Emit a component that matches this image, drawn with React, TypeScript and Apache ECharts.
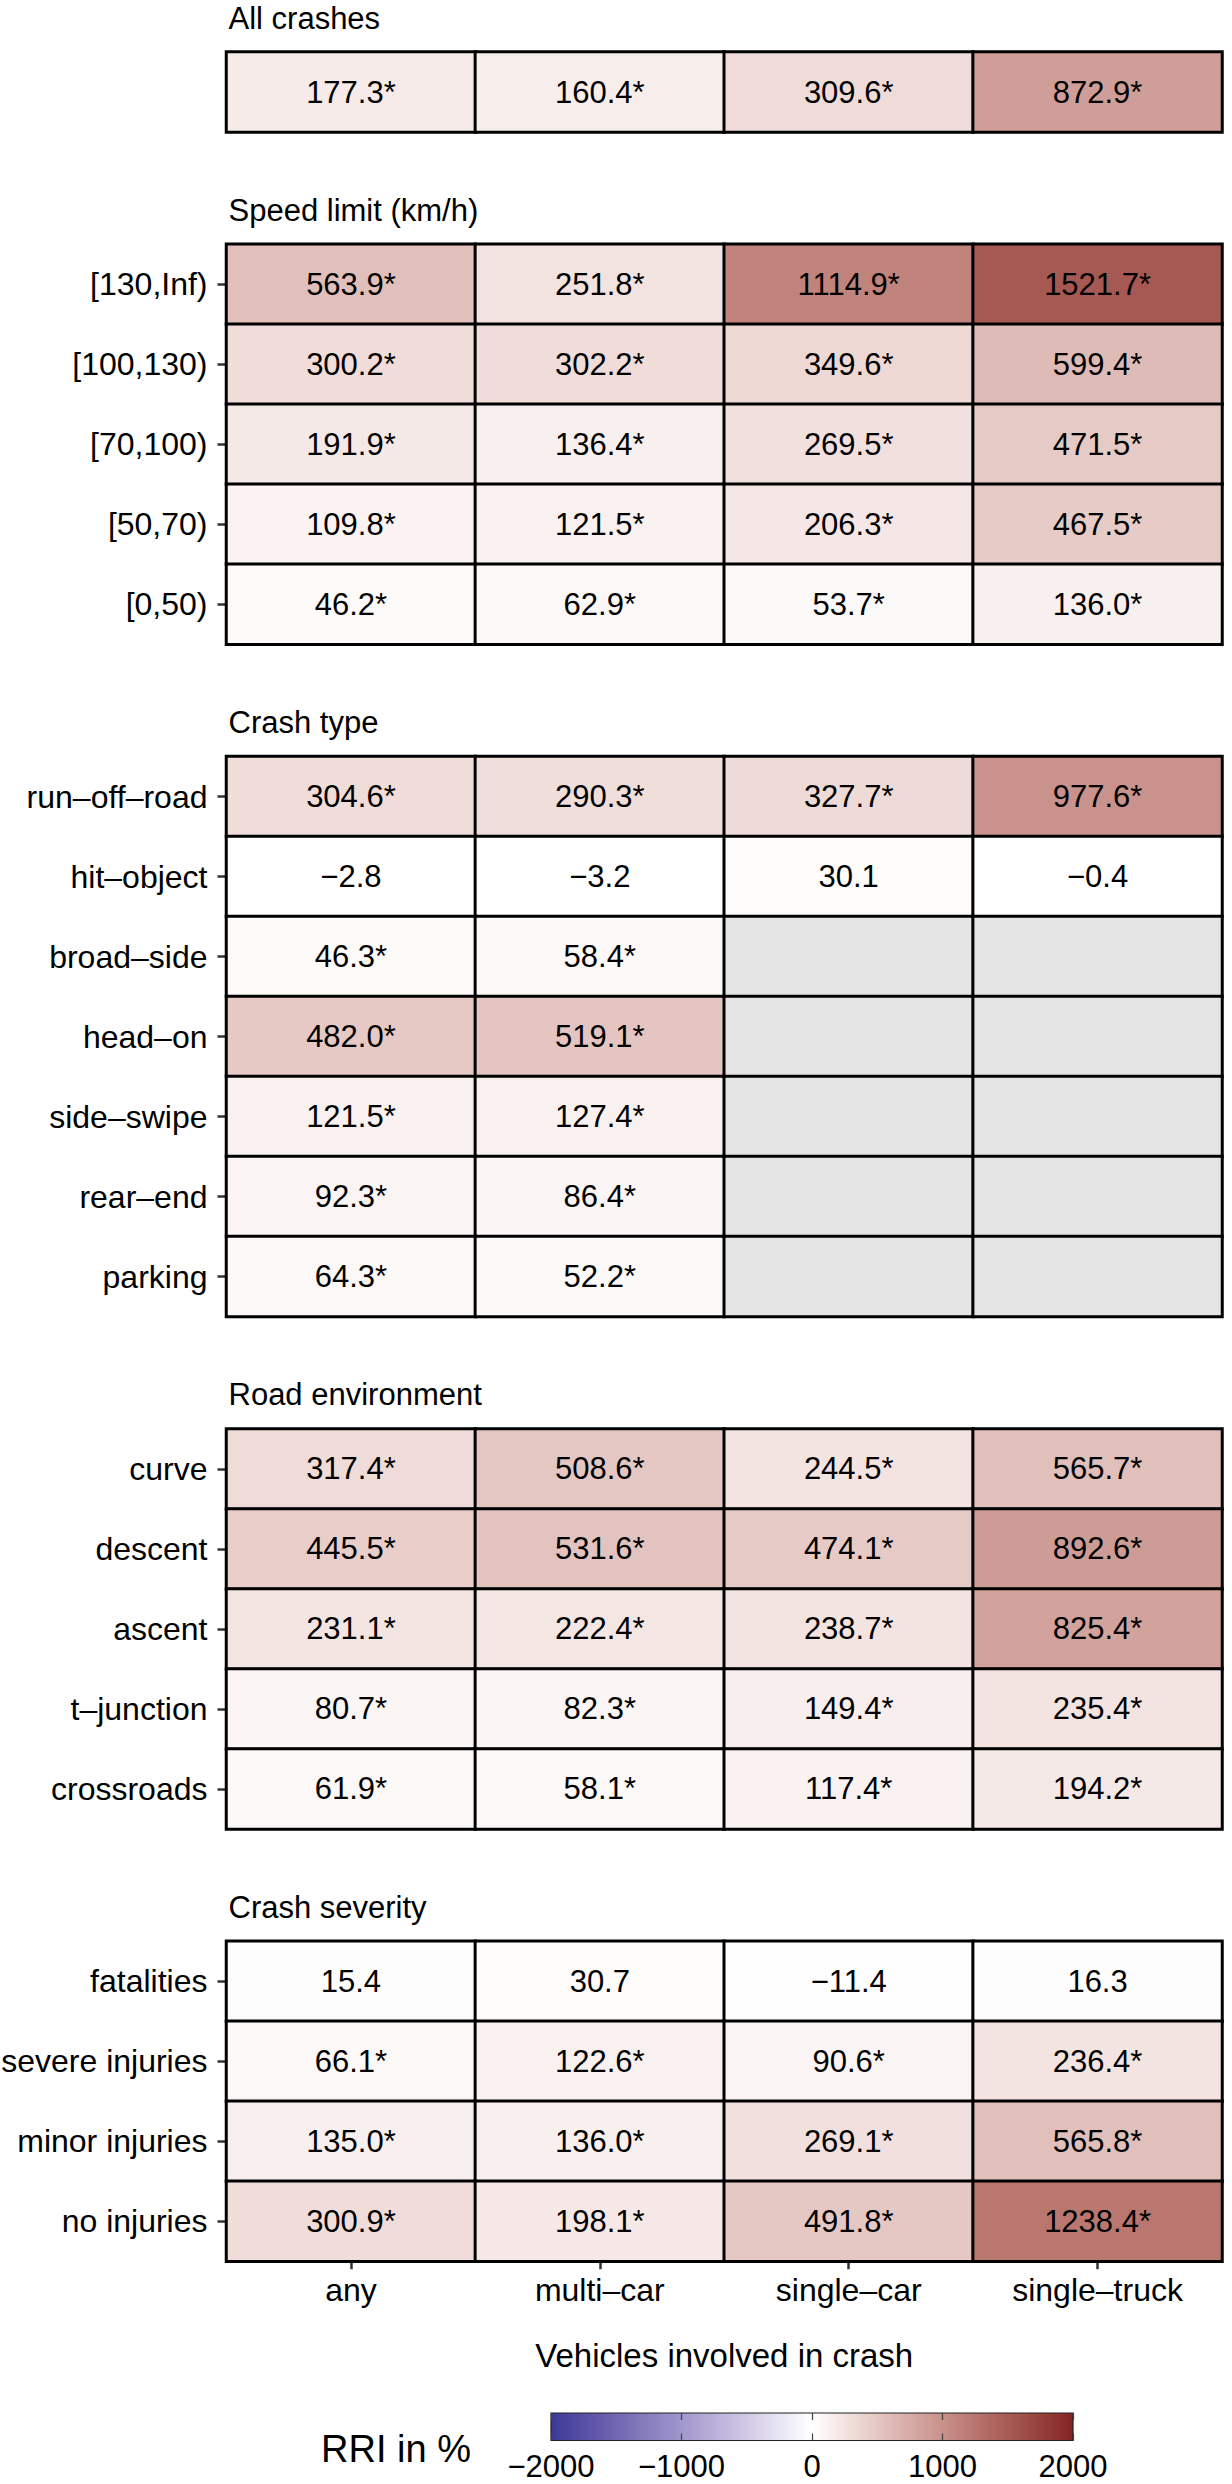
import React, { useEffect, useRef } from "react";
import * as echarts from "echarts";

// ---------------- DATA ----------------
const vehicleTypes = ["any", "multi–car", "single–car", "single–truck"];
const panelTitles = ["All crashes", "Speed limit (km/h)", "Crash type", "Road environment", "Crash severity"];

const allRows = [""];
const allValues = [[177.3, 160.4, 309.6, 872.9]];
const allSig = [[1, 1, 1, 1]];

const speedRows = ["[130,Inf)", "[100,130)", "[70,100)", "[50,70)", "[0,50)"];
const speedValues = [
  [563.9, 251.8, 1114.9, 1521.7],
  [300.2, 302.2, 349.6, 599.4],
  [191.9, 136.4, 269.5, 471.5],
  [109.8, 121.5, 206.3, 467.5],
  [46.2, 62.9, 53.7, 136.0],
];
const speedSig = [
  [1, 1, 1, 1],
  [1, 1, 1, 1],
  [1, 1, 1, 1],
  [1, 1, 1, 1],
  [1, 1, 1, 1],
];

const typeRows = ["run–off–road", "hit–object", "broad–side", "head–on", "side–swipe", "rear–end", "parking"];
const typeValues = [
  [304.6, 290.3, 327.7, 977.6],
  [-2.8, -3.2, 30.1, -0.4],
  [46.3, 58.4, null, null],
  [482.0, 519.1, null, null],
  [121.5, 127.4, null, null],
  [92.3, 86.4, null, null],
  [64.3, 52.2, null, null],
];
const typeSig = [
  [1, 1, 1, 1],
  [0, 0, 0, 0],
  [1, 1, 0, 0],
  [1, 1, 0, 0],
  [1, 1, 0, 0],
  [1, 1, 0, 0],
  [1, 1, 0, 0],
];

const envRows = ["curve", "descent", "ascent", "t–junction", "crossroads"];
const envValues = [
  [317.4, 508.6, 244.5, 565.7],
  [445.5, 531.6, 474.1, 892.6],
  [231.1, 222.4, 238.7, 825.4],
  [80.7, 82.3, 149.4, 235.4],
  [61.9, 58.1, 117.4, 194.2],
];
const envSig = [
  [1, 1, 1, 1],
  [1, 1, 1, 1],
  [1, 1, 1, 1],
  [1, 1, 1, 1],
  [1, 1, 1, 1],
];

const sevRows = ["fatalities", "severe injuries", "minor injuries", "no injuries"];
const sevValues = [
  [15.4, 30.7, -11.4, 16.3],
  [66.1, 122.6, 90.6, 236.4],
  [135.0, 136.0, 269.1, 565.8],
  [300.9, 198.1, 491.8, 1238.4],
];
const sevSig = [
  [0, 0, 0, 0],
  [1, 1, 1, 1],
  [1, 1, 1, 1],
  [1, 1, 1, 1],
];

const scaleMin = -2000;
const scaleMax = 2000;
const scaleStep = 1000;
const legendTitle = "RRI in %";
const xAxisTitle = "Vehicles involved in crash";
const lowColor = "#3A3A98";
const midColor = "#FFFFFF";
const highColor = "#832424";
const naColor = "#E4E4E4";

// ---------------- COLOUR (Lab interpolation like ggplot2) ----------------
function hexToRgb(h: string) {
  return [parseInt(h.slice(1, 3), 16), parseInt(h.slice(3, 5), 16), parseInt(h.slice(5, 7), 16)];
}
function lin(c: number) {
  c /= 255;
  return c <= 0.04045 ? c / 12.92 : Math.pow((c + 0.055) / 1.055, 2.4);
}
function delin(c: number) {
  const v = c <= 0.0031308 ? 12.92 * c : 1.055 * Math.pow(c, 1 / 2.4) - 0.055;
  return Math.round(Math.max(0, Math.min(1, v)) * 255);
}
const Xn = 0.95047, Yn = 1.0, Zn = 1.08883;
function f(t: number) {
  return t > 0.008856 ? Math.cbrt(t) : 7.787 * t + 16 / 116;
}
function finv(t: number) {
  const t3 = t * t * t;
  return t3 > 0.008856 ? t3 : (t - 16 / 116) / 7.787;
}
function rgbToLab(rgb: number[]) {
  const R = lin(rgb[0]), G = lin(rgb[1]), B = lin(rgb[2]);
  const X = 0.4124564 * R + 0.3575761 * G + 0.1804375 * B;
  const Y = 0.2126729 * R + 0.7151522 * G + 0.072175 * B;
  const Z = 0.0193339 * R + 0.119192 * G + 0.9503041 * B;
  const fx = f(X / Xn), fy = f(Y / Yn), fz = f(Z / Zn);
  return [116 * fy - 16, 500 * (fx - fy), 200 * (fy - fz)];
}
function labToHex(lab: number[]) {
  const fy = (lab[0] + 16) / 116;
  const fx = fy + lab[1] / 500;
  const fz = fy - lab[2] / 200;
  const X = finv(fx) * Xn, Y = finv(fy) * Yn, Z = finv(fz) * Zn;
  const R = 3.2404542 * X - 1.5371385 * Y - 0.4985314 * Z;
  const G = -0.969266 * X + 1.8760108 * Y + 0.041556 * Z;
  const B = 0.0556434 * X - 0.2040259 * Y + 1.0572252 * Z;
  const h = (v: number) => delin(v).toString(16).padStart(2, "0");
  return "#" + h(R) + h(G) + h(B);
}
function mixLab(a: string, b: string, t: number) {
  const la = rgbToLab(hexToRgb(a)), lb = rgbToLab(hexToRgb(b));
  return labToHex([la[0] + (lb[0] - la[0]) * t, la[1] + (lb[1] - la[1]) * t, la[2] + (lb[2] - la[2]) * t]);
}
const NSTOP = 40;
const gradientColors: string[] = [];
for (let i = 0; i <= NSTOP; i++) {
  const t = i / NSTOP;
  gradientColors.push(t <= 0.5 ? mixLab(lowColor, midColor, t / 0.5) : mixLab(midColor, highColor, (t - 0.5) / 0.5));
}

// ---------------- LAYOUT ----------------
const FONT = "'Liberation Sans', Arial, Helvetica, sans-serif";
const PANEL_LEFT = 226.5;
const PANEL_RIGHT_GAP = 10;
const ROW_H = 80;
const STRIP_GAP = 112.3;
const FIRST_TOP = 52;

const panels = [
  { title: panelTitles[0], rows: allRows, values: allValues, sig: allSig },
  { title: panelTitles[1], rows: speedRows, values: speedValues, sig: speedSig },
  { title: panelTitles[2], rows: typeRows, values: typeValues, sig: typeSig },
  { title: panelTitles[3], rows: envRows, values: envValues, sig: envSig },
  { title: panelTitles[4], rows: sevRows, values: sevValues, sig: sevSig },
];

function fmt(v: number) {
  const s = v.toFixed(1);
  return v < 0 ? "−" + s.slice(1) : s;
}

function buildOption() {
  const grids: any[] = [];
  const xAxes: any[] = [];
  const yAxes: any[] = [];
  const series: any[] = [];
  const graphics: any[] = [];
  const valueSeriesIdx: number[] = [];
  const naSeriesIdx: number[] = [];
  let top = FIRST_TOP;
  const last = panels.length - 1;

  panels.forEach((p, k) => {
    const h = p.rows.length * ROW_H;
    grids.push({ left: PANEL_LEFT, right: PANEL_RIGHT_GAP, top, height: h, outerBoundsMode: "none", containLabel: false });
    graphics.push({
      type: "text",
      x: PANEL_LEFT + 2,
      y: top - 34,
      style: { text: p.title, fontSize: 31, fontFamily: FONT, fill: "#000", align: "left", verticalAlign: "middle" },
    });
    xAxes.push({
      type: "category",
      gridIndex: k,
      data: vehicleTypes,
      axisLine: { show: false },
      splitLine: { show: false },
      axisTick: { show: k === last, alignWithLabel: true, length: 8, lineStyle: { color: "#333", width: 2.5 } },
      axisLabel: { show: k === last, interval: 0, fontSize: 32, fontFamily: FONT, color: "#000", margin: 13 },
    });
    yAxes.push({
      type: "category",
      gridIndex: k,
      data: p.rows,
      inverse: true,
      axisLine: { show: false },
      splitLine: { show: false },
      axisTick: { show: k !== 0, alignWithLabel: true, length: 9, lineStyle: { color: "#333", width: 2.5 } },
      axisLabel: { show: k !== 0, interval: 0, fontSize: 32, fontFamily: FONT, color: "#000", margin: 19 },
    });
    const valData: any[] = [];
    const naData: any[] = [];
    p.values.forEach((row, ri) => {
      row.forEach((v, ci) => {
        if (v === null) naData.push([ci, ri, 0]);
        else valData.push([ci, ri, v]);
      });
    });
    const sig = p.sig;
    valueSeriesIdx.push(series.length);
    series.push({
      type: "heatmap",
      xAxisIndex: k,
      yAxisIndex: k,
      data: valData,
      itemStyle: { borderColor: "#000", borderWidth: 3 },
      emphasis: { disabled: true },
      label: {
        show: true,
        fontSize: 31,
        fontFamily: FONT,
        color: "#000",
        formatter: (prm: any) => fmt(prm.value[2]) + (sig[prm.value[1]][prm.value[0]] ? "*" : ""),
      },
    });
    naSeriesIdx.push(series.length);
    series.push({
      type: "heatmap",
      xAxisIndex: k,
      yAxisIndex: k,
      data: naData,
      itemStyle: { borderColor: "#000", borderWidth: 3 },
      emphasis: { disabled: true },
      label: { show: false },
    });
    top += h + STRIP_GAP;
  });

  // x-axis title
  const lastBottom = top - STRIP_GAP;
  graphics.push({
    type: "text",
    x: PANEL_LEFT + (1232 - PANEL_RIGHT_GAP - PANEL_LEFT) / 2,
    y: lastBottom + 94,
    style: { text: xAxisTitle, fontSize: 33, fontFamily: FONT, fill: "#000", align: "center", verticalAlign: "middle" },
  });

  // legend (colour bar)
  const lg = grids.length;
  grids.push({ left: 551, width: 522, top: 2413, height: 27.5, outerBoundsMode: "none", containLabel: false });
  xAxes.push({
    type: "value",
    gridIndex: lg,
    min: scaleMin,
    max: scaleMax,
    interval: scaleStep,
    z: 5,
    axisLine: { show: false },
    splitLine: { show: false },
    axisTick: { show: true, inside: true, length: 7, lineStyle: { color: "#444", width: 1.2 } },
    axisLabel: {
      show: true,
      fontSize: 31,
      fontFamily: FONT,
      color: "#000",
      margin: 10,
      formatter: (v: number) => (v < 0 ? "−" + Math.abs(v) : String(v)),
    },
  });
  xAxes.push({
    type: "value",
    gridIndex: lg,
    position: "top",
    min: scaleMin,
    max: scaleMax,
    interval: scaleStep,
    z: 5,
    axisLine: { show: false },
    splitLine: { show: false },
    axisTick: { show: true, inside: true, length: 7, lineStyle: { color: "#444", width: 1.2 } },
    axisLabel: { show: false },
  });
  yAxes.push({ type: "value", gridIndex: lg, min: 0, max: 1, show: false });
  const stops = gradientColors.map((c, i) => ({ offset: i / NSTOP, color: c }));
  series.push({
    type: "custom",
    xAxisIndex: lg,
    yAxisIndex: lg,
    z: 1,
    silent: true,
    data: [[scaleMin, 0, scaleMax, 1]],
    encode: { x: [0, 2], y: [1, 3] },
    renderItem: (_params: any, api: any) => {
      const p0 = api.coord([api.value(0), api.value(3)]);
      const p1 = api.coord([api.value(2), api.value(1)]);
      return {
        type: "rect",
        shape: { x: p0[0], y: p0[1], width: p1[0] - p0[0], height: p1[1] - p0[1] },
        style: { fill: new echarts.graphic.LinearGradient(0, 0, 1, 0, stops), stroke: "#222", lineWidth: 1.2 },
      };
    },
  });
  graphics.push({
    type: "text",
    x: 321,
    y: 2449,
    style: { text: legendTitle, fontSize: 38, fontFamily: FONT, fill: "#000", align: "left", verticalAlign: "middle" },
  });

  return {
    animation: false,
    backgroundColor: "#fff",
    grid: grids,
    xAxis: xAxes,
    yAxis: yAxes,
    visualMap: [
      {
        type: "continuous",
        show: false,
        min: scaleMin,
        max: scaleMax,
        dimension: 2,
        seriesIndex: valueSeriesIdx,
        inRange: { color: gradientColors },
      },
      {
        type: "continuous",
        show: false,
        min: -1,
        max: 1,
        dimension: 2,
        seriesIndex: naSeriesIdx,
        inRange: { color: [naColor, naColor] },
      },
    ],
    series,
    graphic: graphics,
  };
}

export default function App() {
  const ref = useRef<HTMLDivElement>(null);
  useEffect(() => {
    if (!ref.current) return;
    const chart = echarts.init(ref.current, undefined, { renderer: "svg" });
    chart.setOption(buildOption() as any);
    return () => chart.dispose();
  }, []);
  return <div ref={ref} style={{ position: "absolute", left: 0, top: 0, width: 1232, height: 2484 }} />;
}
